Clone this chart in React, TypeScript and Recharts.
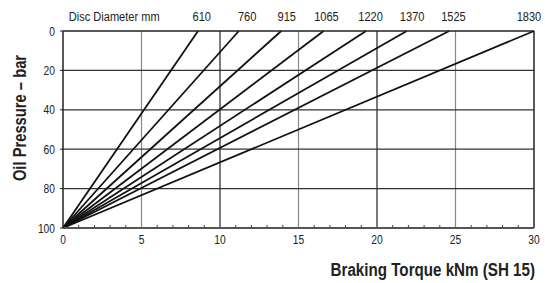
import React from 'react';
import { LineChart, Line, XAxis, YAxis, ReferenceLine, Label } from 'recharts';

// disc diameters (mm) and the torque where each line meets 0 bar
const discDiameters = ['610', '760', '915', '1065', '1220', '1370', '1525', '1830'];
const torqueAtZeroBar = [8.6, 11.2, 13.9, 16.6, 19.3, 21.9, 24.6, 30];
// where the diameter labels sit along the top (in kNm)
const diameterLabelAt = [8.84, 11.73, 14.25, 16.78, 19.59, 22.24, 24.87, 29.68];
const discTitle = 'Disc Diameter mm';
const discTitleAt = 3.26;

const torqueTicks = [0, 5, 10, 15, 20, 25, 30];
const torqueMinorTicks = Array.from({ length: 31 }, (_, i) => i);
const pressureTicks = [0, 20, 40, 60, 80, 100];
const pressureGrid = [20, 40, 60, 80];
const maxPressure = 100;

const font = "'Liberation Sans', Arial, sans-serif";
const dark = '#222';

const seriesData = torqueAtZeroBar.map((end) => [
	{ torque: 0, pressure: maxPressure },
	{ torque: end, pressure: 0 },
]);
// anchors the top axis so it gets a domain (drawn invisibly)
const topAnchor = [0, 30].map((t) => ({ torque: t, pressure: 0 }));

// no narrow font installed, so squeeze regular glyphs horizontally
const Narrow = ({ x, y, anchor = 'middle', size = 12.5, bold = false, rotate = 0, children }: any) => (
	<g transform={`translate(${x},${y}) rotate(${rotate}) scale(0.82,1)`}>
		<text
			x={0}
			y={0}
			textAnchor={anchor}
			fontSize={size}
			fontWeight={bold ? 'bold' : 'normal'}
			fontFamily={font}
			fill={dark}
		>
			{children}
		</text>
	</g>
);

const TorqueTick = (props: any) => {
	const { x, y, payload } = props;
	const v = payload.value;
	const major = torqueTicks.includes(v);
	return (
		<g>
			{!major && <line x1={x} x2={x} y1={y} y2={y - 3} stroke="#444" strokeWidth={1} />}
			{major && (
				<Narrow x={x} y={y + 16}>
					{v}
				</Narrow>
			)}
		</g>
	);
};

const TopTick = (props: any) => {
	const { x, y, payload } = props;
	const v = payload.value;
	const idx = diameterLabelAt.indexOf(v);
	const text = idx >= 0 ? discDiameters[idx] : discTitle;
	return (
		<Narrow x={x} y={y - 10} size={13.5}>
			{text}
		</Narrow>
	);
};

const PressureTick = (props: any) => {
	const { x, y, payload } = props;
	return (
		<Narrow x={x} y={y + 4.5} anchor="end">
			{payload.value}
		</Narrow>
	);
};

export default function App() {
	return (
		<div style={{ position: 'absolute', left: 0, top: 0, width: 545, height: 283, background: '#fff' }}>
			<LineChart
				width={545}
				height={283}
				margin={{ top: 11, right: 11, left: 13, bottom: 35 }}
			>
				<XAxis
					dataKey="torque"
					type="number"
					domain={[0, 30]}
					ticks={torqueMinorTicks}
					interval={0}
					tickSize={0}
					tickMargin={0}
					tickLine={false}
					axisLine={{ stroke: '#555', strokeWidth: 2 }}
					tick={<TorqueTick />}
					height={20}
				>
					<Label
						content={() => (
							<Narrow x={535} y={276} anchor="end" size={18.5} bold>
								Braking Torque kNm (SH 15)
							</Narrow>
						)}
					/>
				</XAxis>
				<XAxis
					xAxisId="top"
					dataKey="torque"
					orientation="top"
					type="number"
					domain={[0, 30]}
					allowDataOverflow
					ticks={[discTitleAt, ...diameterLabelAt]}
					interval={0}
					tickSize={0}
					tickMargin={0}
					tickLine={false}
					axisLine={{ stroke: dark, strokeWidth: 1.5 }}
					tick={<TopTick />}
					height={20}
				/>
				<YAxis
					type="number"
					dataKey="pressure"
					domain={[0, maxPressure]}
					reversed
					ticks={pressureTicks}
					interval={0}
					width={50}
					tickSize={3}
					tickMargin={5}
					tickLine={{ stroke: dark }}
					axisLine={{ stroke: dark, strokeWidth: 1.5 }}
					tick={<PressureTick />}
				>
					<Label
						content={() => (
							<Narrow x={26} y={118} rotate={-90} size={18} bold>
								Oil Pressure – bar
							</Narrow>
						)}
					/>
				</YAxis>
				{torqueTicks.slice(1).map((t) => (
					<ReferenceLine
						key={'v' + t}
						x={t}
						stroke={t % 10 === 0 ? dark : '#888'}
						strokeWidth={t === 30 ? 1.5 : 1.2}
					/>
				))}
				{pressureGrid.map((p) => (
					<ReferenceLine key={'h' + p} y={p} stroke="#333" strokeWidth={1.2} />
				))}
				<Line
					xAxisId="top"
					data={topAnchor}
					dataKey="pressure"
					stroke="none"
					dot={false}
					activeDot={false}
					legendType="none"
					isAnimationActive={false}
				/>
				{seriesData.map((d, i) => (
					<Line
						key={discDiameters[i]}
						data={d}
						dataKey="pressure"
						stroke="#111"
						strokeWidth={1.8}
						dot={false}
						activeDot={false}
						isAnimationActive={false}
					/>
				))}
			</LineChart>
		</div>
	);
}
